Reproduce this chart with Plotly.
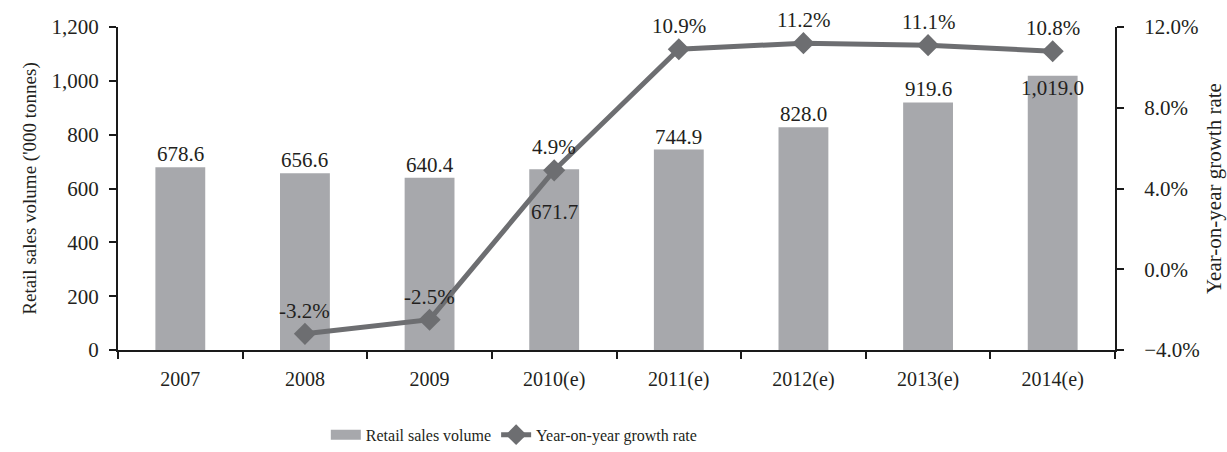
import plotly.graph_objects as go

years = ["2007", "2008", "2009", "2010(e)", "2011(e)", "2012(e)", "2013(e)", "2014(e)"]
sales_volume = [678.6, 656.6, 640.4, 671.7, 744.9, 828.0, 919.6, 1019.0]
growth_years = ["2008", "2009", "2010(e)", "2011(e)", "2012(e)", "2013(e)", "2014(e)"]
growth_rate = [-3.2, -2.5, 4.9, 10.9, 11.2, 11.1, 10.8]

FONT = "Liberation Serif, Times New Roman, serif"
TEXT = "#231F20"
AXIS = "#1a1a1a"
BAR = "#A7A8AC"
LINE = "#6D6E71"

fig = go.Figure()
fig.add_trace(go.Bar(
    x=years, y=sales_volume, name="Retail sales volume",
    marker=dict(color=BAR, line=dict(width=0)), showlegend=False,
))
# wide rectangular legend swatch for the bars
fig.add_trace(go.Scatter(
    x=[None], y=[None], name="Retail sales volume", mode="lines",
    line=dict(color=BAR, width=13),
))
fig.add_trace(go.Scatter(
    x=growth_years, y=growth_rate, name="Year-on-year growth rate",
    yaxis="y2", mode="lines+markers",
    line=dict(color=LINE, width=5),
    marker=dict(symbol="diamond", size=17, color=LINE),
))

annotations = []
# bar value labels: above the bar, inside where the growth line passes over
for i, (x, v) in enumerate(zip(years, sales_volume)):
    if x == "2010(e)":
        yshift = -43
    elif x == "2014(e)":
        yshift = -12
    else:
        yshift = 13
    annotations.append(dict(
        x=i, y=v, xref="x", yref="y", text=f"{v:,.1f}",
        showarrow=False, yanchor="middle", yshift=yshift,
        font=dict(family=FONT, size=21, color=TEXT),
    ))
# growth rate labels above markers
for x, g in zip(growth_years, growth_rate):
    annotations.append(dict(
        x=years.index(x), y=g, xref="x", yref="y2", text=f"{g:.1f}%",
        showarrow=False, yanchor="middle", yshift=23,
        font=dict(family=FONT, size=21, color=TEXT),
    ))

fig.update_layout(
    width=1227, height=452,
    margin=dict(l=118, r=112, t=27, b=102, autoexpand=False),
    paper_bgcolor="white", plot_bgcolor="white",
    font=dict(family=FONT, size=16, color=TEXT),
    bargap=0.6,
    showlegend=True,
    legend=dict(orientation="h", x=0.397, xanchor="center",
                yref="container", y=0.038, yanchor="middle",
                font=dict(family=FONT, size=16, color=TEXT)),
    xaxis=dict(
        type="category", categoryorder="array", categoryarray=years,
        showline=True, linecolor=AXIS, linewidth=2, automargin=False,
        ticks="outside", tickson="boundaries", ticklen=7, tickwidth=2, tickcolor=AXIS,
        showgrid=False, tickfont=dict(size=20), ticklabelstandoff=10, tickangle=0,
    ),
    yaxis=dict(
        range=[0, 1200], dtick=200, tickformat=",d", automargin=False,
        showline=True, linecolor=AXIS, linewidth=2,
        ticks="outside", ticklen=7, tickwidth=2, tickcolor=AXIS,
        showgrid=False, zeroline=False, tickfont=dict(size=21), ticklabelstandoff=6,
        title=dict(text="Retail sales volume ('000 tonnes)", font=dict(size=19), standoff=10),
    ),
    yaxis2=dict(
        range=[-4, 12], dtick=4, tickformat=".1f", ticksuffix="%", automargin=False,
        overlaying="y", side="right",
        showline=True, linecolor=AXIS, linewidth=2,
        ticks="outside", ticklen=7, tickwidth=2, tickcolor=AXIS,
        showgrid=False, zeroline=False, tickfont=dict(size=21), ticklabelstandoff=16,
        title=dict(text="Year-on-year growth rate", font=dict(size=21), standoff=8),
    ),
    annotations=annotations,
)

fig.write_html("out.html")
